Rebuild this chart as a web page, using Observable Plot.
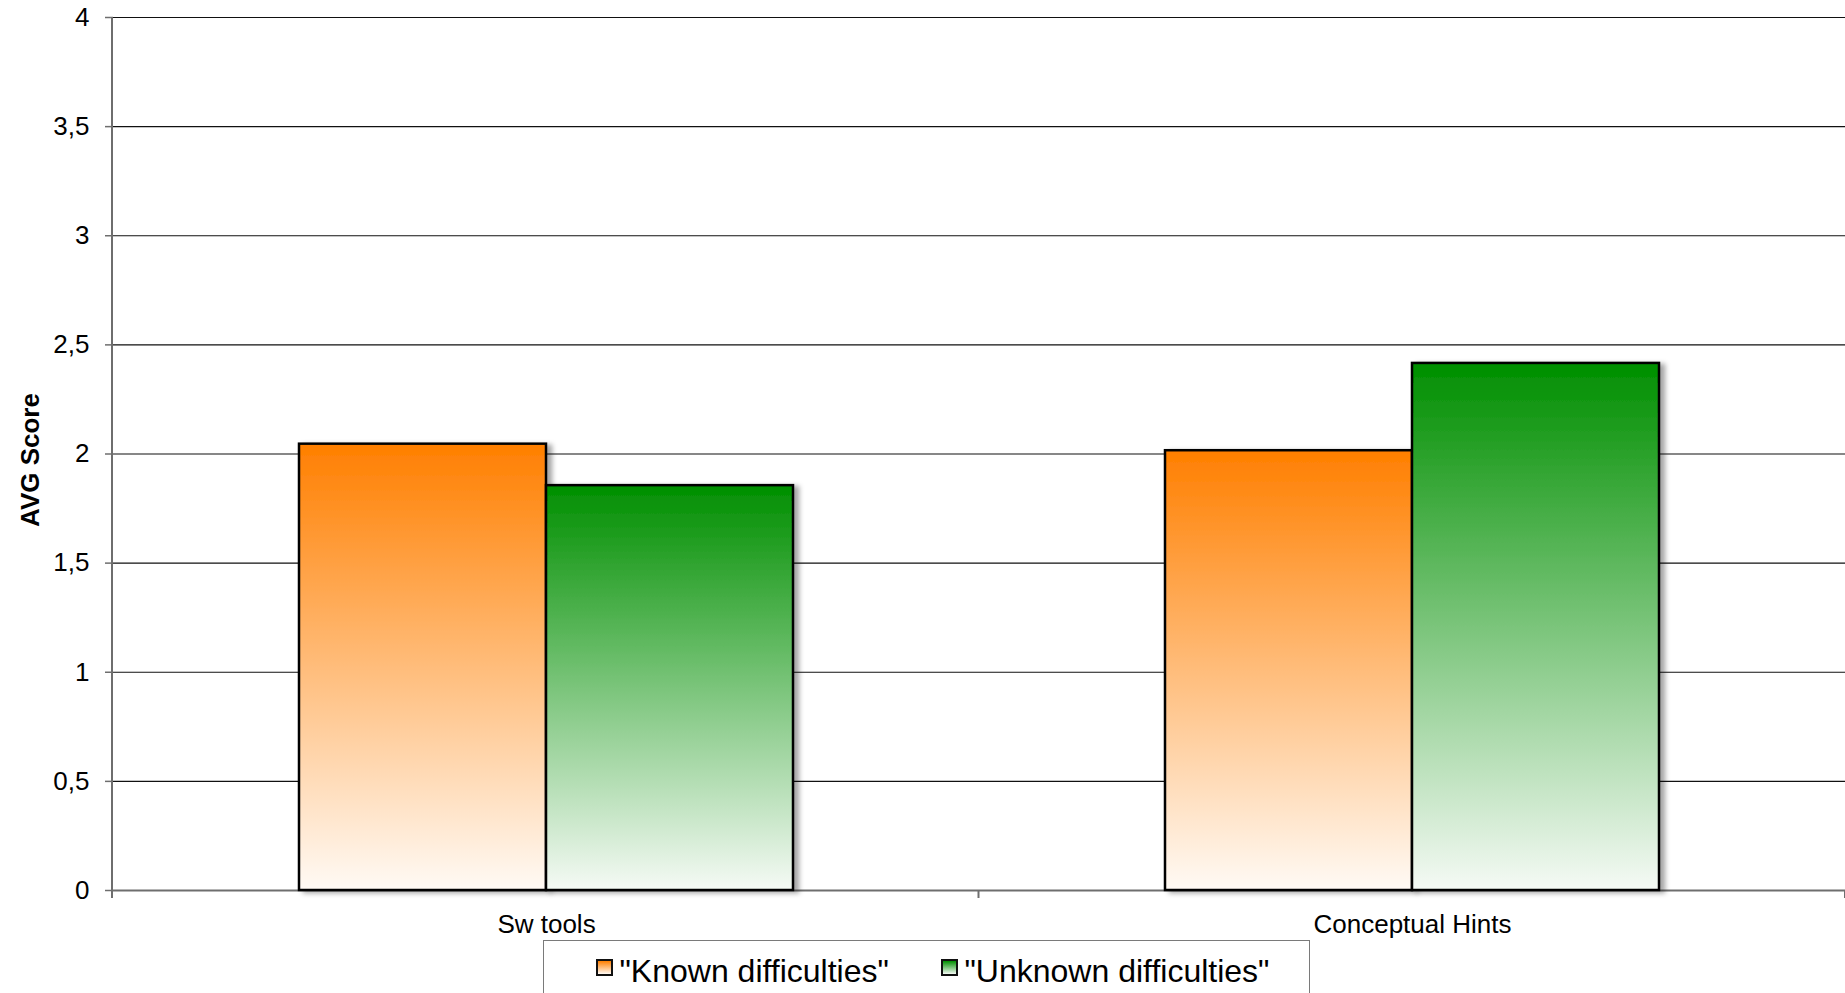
<!DOCTYPE html>
<html>
<head>
<meta charset="utf-8">
<script src="https://cdn.jsdelivr.net/npm/d3@7"></script>
<script src="https://cdn.jsdelivr.net/npm/@observablehq/plot@0.6"></script>
<style>
  html, body { margin: 0; padding: 0; background: #fff; overflow: hidden; }
  #wrap { position: relative; width: 1845px; height: 993px; overflow: hidden;
          font-family: "Liberation Sans", Arial, sans-serif; }
  #legend { position: absolute; left: 543px; top: 940px; width: 767px; height: 90px;
            border: 1.5px solid #7a7a7a; box-sizing: border-box; background: #fff; }
  .swatch { position: absolute; top: 18px; width: 17px; height: 17px;
            box-sizing: border-box; border: 2.5px solid #111; }
  .label { position: absolute; top: 14px; font-size: 32px; line-height: 32px;
           white-space: nowrap; color: #000; }
</style>
</head>
<body>
<div id="wrap">
  <div id="chart"></div>
  <div id="legend"></div>
</div>
<script>
// Average scores per hint type, split by kind of difficulty
const categories = ["Sw tools", "Conceptual Hints"];
const seriesNames = ['"Known difficulties"', '"Unknown difficulties"'];
const knownScores = [2.045, 2.015];
const unknownScores = [1.855, 2.415];
const yTicks = [0, 0.5, 1, 1.5, 2, 2.5, 3, 3.5, 4];
// top and bottom colours of each series' vertical gradient
const seriesGradients = [["#ff7f00", "#fffaf5"], ["#008f00", "#f5faf5"]];
const gradientIds = ["grad-known", "grad-unknown"];

const rows = categories.flatMap((c, i) => [
  {category: c, series: seriesNames[0], score: knownScores[i]},
  {category: c, series: seriesNames[1], score: unknownScores[i]}
]);

const commaFormat = d => String(d).replace(".", ",");

const chart = Plot.plot({
  width: 1845,
  height: 940,
  marginLeft: 112,
  marginRight: 0,
  marginTop: 17,
  marginBottom: 50,
  style: {fontFamily: '"Liberation Sans", Arial, sans-serif', fontSize: "26px", color: "#000", background: "#fff"},
  fx: {domain: categories, padding: 0, label: null},
  x: {domain: seriesNames, paddingInner: 0, paddingOuter: 0.75, axis: null},
  y: {domain: [0, 4], label: null},
  marks: [
    Plot.gridY(yTicks.filter(t => t > 0), {stroke: "#111", strokeOpacity: 1, strokeWidth: 1.2}),
    Plot.ruleY([0], {stroke: "#6e6e6e", strokeWidth: 2}),
    Plot.axisY({
      ticks: yTicks, tickSize: 8, tickPadding: 16, tickFormat: commaFormat,
      fontSize: 26, stroke: "#6e6e6e", strokeWidth: 1.5,
      label: "AVG Score", labelAnchor: "center", labelArrow: "none", labelOffset: 93
    }),
    Plot.axisFx({anchor: "bottom", tickSize: 0, tickPadding: 24, fontSize: 26, label: null}),
    ...seriesNames.map((s, k) =>
      Plot.barY(rows.filter(d => d.series === s), {
        fx: "category", x: "series", y: "score",
        fill: `url(#${gradientIds[k]})`, stroke: "#000", strokeWidth: 2.5
      })
    )
  ]
});

document.getElementById("chart").appendChild(chart);

// gradients and the soft shadow behind the bars
const svg = d3.select(chart);
const defs = svg.insert("defs", ":first-child");
seriesGradients.forEach(([top, bottom], k) => {
  const g = defs.append("linearGradient").attr("id", gradientIds[k])
    .attr("x1", 0).attr("y1", 0).attr("x2", 0).attr("y2", 1);
  g.append("stop").attr("offset", "0%").attr("stop-color", top);
  g.append("stop").attr("offset", "100%").attr("stop-color", bottom);
});
defs.append("filter").attr("id", "bar-shadow")
  .attr("x", "-5%").attr("y", "-5%").attr("width", "120%").attr("height", "115%")
  .append("feDropShadow").attr("dx", 5).attr("dy", 2).attr("stdDeviation", 2.5)
  .attr("flood-color", "#000").attr("flood-opacity", 0.35);
svg.selectAll('g[aria-label="bar"]').attr("filter", "url(#bar-shadow)");

// bold axis title, nudged a little below the frame centre
svg.selectAll('[aria-label="y-axis label"]').attr("font-weight", "bold");
svg.selectAll('[aria-label="y-axis label"] text').attr("dx", -6);

// vertical axis line and category boundary ticks, placed from the plot's scales
const fxScale = chart.scale("fx");
const yScale = chart.scale("y");
const yPos = d3.scaleLinear(yScale.domain, yScale.range);
const [fx0, fx1] = fxScale.range;
const step = (fx1 - fx0) / fxScale.domain.length;
const axes = svg.append("g").attr("stroke", "#6e6e6e").attr("stroke-width", 2);
axes.append("line").attr("x1", fx0).attr("x2", fx0).attr("y1", yPos(4)).attr("y2", yPos(0));
d3.range(fxScale.domain.length + 1).forEach(i => {
  const x = fx0 + i * step;
  axes.append("line").attr("x1", x).attr("x2", x).attr("y1", yPos(0)).attr("y2", yPos(0) + 8);
});

// legend below the chart
const legend = d3.select("#legend");
const swatchLeft = [51.5, 396.5];
const labelLeft = [75.5, 420.5];
seriesNames.forEach((s, k) => {
  legend.append("div").attr("class", "swatch")
    .style("left", swatchLeft[k] + "px")
    .style("background", `linear-gradient(to bottom, ${seriesGradients[k][0]}, ${seriesGradients[k][1]})`);
  legend.append("div").attr("class", "label").style("left", labelLeft[k] + "px").text(s);
});
</script>
</body>
</html>
